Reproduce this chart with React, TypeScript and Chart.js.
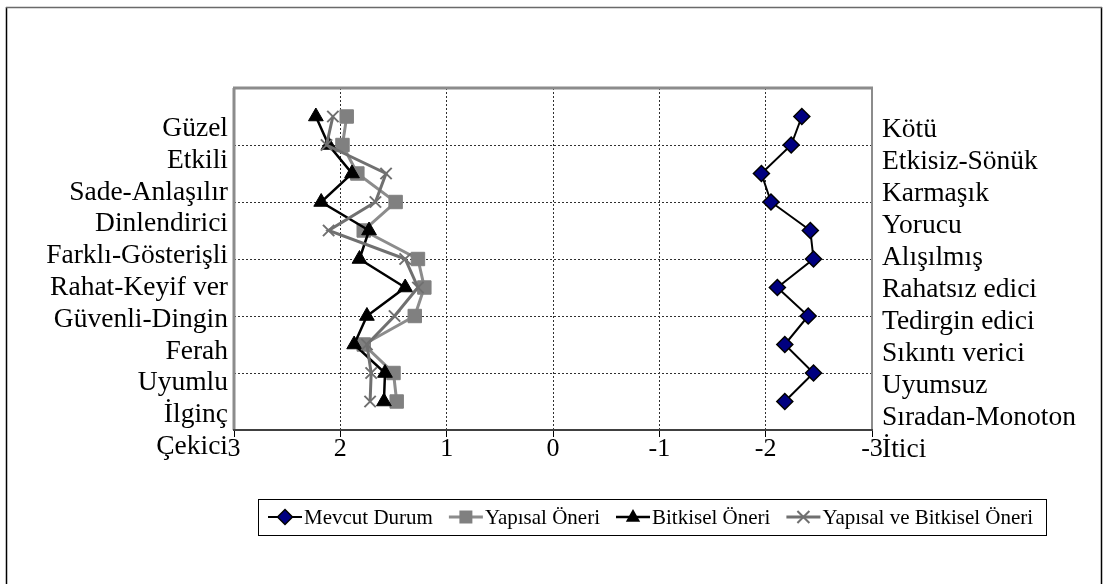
import React, { useEffect, useRef } from "react";
import { Chart, registerables } from "chart.js";

Chart.register(...registerables);

// ---- data ----
const yPositions = [5.5, 5, 4.5, 4, 3.5, 3, 2.5, 2, 1.5, 1, 0.5];
const leftLabels = [
  "Güzel",
  "Etkili",
  "Sade-Anlaşılır",
  "Dinlendirici",
  "Farklı-Gösterişli",
  "Rahat-Keyif ver",
  "Güvenli-Dingin",
  "Ferah",
  "Uyumlu",
  "İlginç",
  "Çekici",
];
const rightLabels = [
  "Kötü",
  "Etkisiz-Sönük",
  "Karmaşık",
  "Yorucu",
  "Alışılmış",
  "Rahatsız edici",
  "Tedirgin edici",
  "Sıkıntı verici",
  "Uyumsuz",
  "Sıradan-Monoton",
  "İtici",
];
const seriesNames = ["Mevcut Durum", "Yapısal Öneri", "Bitkisel Öneri", "Yapısal ve Bitkisel Öneri"];
const mevcutDurum = [-2.34, -2.24, -1.96, -2.05, -2.42, -2.45, -2.11, -2.4, -2.18, -2.45, -2.18];
const yapisalOneri = [1.94, 1.98, 1.84, 1.48, 1.78, 1.27, 1.21, 1.3, 1.78, 1.5, 1.47];
const bitkiselOneri = [2.23, 2.11, 1.89, 2.18, 1.73, 1.82, 1.39, 1.75, 1.87, 1.58, 1.59];
const yapisalVeBitkisel = [2.07, 2.13, 1.57, 1.67, 2.11, 1.39, 1.27, 1.49, 1.75, 1.71, 1.72];
const xTicks = [3, 2, 1, 0, -1, -2, -3];

const SERIF = "'Liberation Serif', 'Times New Roman', serif";

const styles = [
  { line: "#000000", lw: 2, marker: "diamond", fill: "#000080", stroke: "#000000" },
  { line: "#8c8c8c", lw: 3, marker: "square", fill: "#808080", stroke: "#808080" },
  { line: "#000000", lw: 2.5, marker: "triangle", fill: "#000000", stroke: "#000000" },
  { line: "#707070", lw: 3, marker: "cross", fill: "#707070", stroke: "#707070" },
];

function drawMarker(ctx: CanvasRenderingContext2D, kind: string, x: number, y: number, fill: string, stroke: string) {
  ctx.save();
  ctx.fillStyle = fill;
  ctx.strokeStyle = stroke;
  ctx.beginPath();
  if (kind === "diamond") {
    const r = 7.5;
    ctx.moveTo(x, y - r);
    ctx.lineTo(x + r, y);
    ctx.lineTo(x, y + r);
    ctx.lineTo(x - r, y);
    ctx.closePath();
    ctx.fill();
    ctx.lineWidth = 1.5;
    ctx.stroke();
  } else if (kind === "square") {
    const s = 6.5;
    ctx.rect(x - s, y - s, 2 * s, 2 * s);
    ctx.fill();
  } else if (kind === "triangle") {
    const r = 8;
    ctx.moveTo(x, y - r);
    ctx.lineTo(x + r * 0.9, y + r * 0.6);
    ctx.lineTo(x - r * 0.9, y + r * 0.6);
    ctx.closePath();
    ctx.fill();
  } else {
    const r = 6;
    ctx.lineWidth = 2;
    ctx.moveTo(x - r, y - r);
    ctx.lineTo(x + r, y + r);
    ctx.moveTo(x + r, y - r);
    ctx.lineTo(x - r, y + r);
    ctx.stroke();
  }
  ctx.restore();
}

const decorPlugin = {
  id: "decor",
  beforeDraw(chart: any) {
    const { ctx, width, height } = chart;
    ctx.save();
    ctx.fillStyle = "#ffffff";
    ctx.fillRect(0, 0, width, height);
    // outer frame
    ctx.lineWidth = 1.5;
    ctx.strokeStyle = "#000000";
    ctx.beginPath();
    ctx.moveTo(6.5, 7);
    ctx.lineTo(6.5, height + 5);
    ctx.moveTo(1101.5, 7);
    ctx.lineTo(1101.5, height + 5);
    ctx.stroke();
    ctx.strokeStyle = "#6a6a6a";
    ctx.beginPath();
    ctx.moveTo(6, 7.5);
    ctx.lineTo(1102, 7.5);
    ctx.stroke();
    ctx.restore();
  },
  beforeDatasetsDraw(chart: any) {
    const { ctx, chartArea } = chart;
    const { left, right, top, bottom } = chartArea;
    ctx.save();
    ctx.strokeStyle = "#8c8c8c";
    ctx.lineWidth = 3;
    ctx.beginPath();
    ctx.moveTo(left - 1, top);
    ctx.lineTo(right + 1, top);
    ctx.moveTo(left, top);
    ctx.lineTo(left, bottom);
    ctx.stroke();
    ctx.lineWidth = 2;
    ctx.beginPath();
    ctx.moveTo(right, top);
    ctx.lineTo(right, bottom);
    ctx.stroke();
    ctx.strokeStyle = "#404040";
    ctx.lineWidth = 2;
    ctx.beginPath();
    ctx.moveTo(left - 1, bottom);
    ctx.lineTo(right + 1, bottom);
    ctx.stroke();
    ctx.restore();
  },
  afterDraw(chart: any) {
    const { ctx, chartArea } = chart;
    const { left, right, top } = chartArea;
    ctx.save();
    ctx.fillStyle = "#000000";
    ctx.font = `27.5px ${SERIF}`;
    ctx.textBaseline = "alphabetic";
    ctx.textAlign = "right";
    leftLabels.forEach((t, i) => {
      ctx.fillText(t, left - 6, top + 48 + i * 31.8);
    });
    ctx.textAlign = "left";
    rightLabels.forEach((t, i) => {
      ctx.fillText(t, right + 10, top + 49 + i * 32.0);
    });

    // legend
    const boxL = 258;
    const boxT = 499;
    const boxR = 1046;
    const boxB = 535;
    ctx.strokeStyle = "#000000";
    ctx.lineWidth = 1;
    ctx.strokeRect(boxL + 0.5, boxT + 0.5, boxR - boxL, boxB - boxT);
    ctx.font = `21px ${SERIF}`;
    ctx.textBaseline = "middle";
    ctx.textAlign = "left";
    const yc = (boxT + boxB) / 2;
    let x = boxL + 10;
    seriesNames.forEach((name, i) => {
      const st = styles[i];
      ctx.strokeStyle = st.line;
      ctx.lineWidth = st.lw;
      ctx.beginPath();
      ctx.moveTo(x, yc);
      ctx.lineTo(x + 34, yc);
      ctx.stroke();
      drawMarker(ctx, st.marker, x + 17, yc, st.fill, st.stroke);
      ctx.fillStyle = "#000000";
      ctx.fillText(name, x + 36, yc + 1);
      x += 36 + ctx.measureText(name).width + 16;
    });
    ctx.restore();
  },
};

export default function App() {
  const canvasRef = useRef<HTMLCanvasElement | null>(null);

  useEffect(() => {
    if (!canvasRef.current) return;
    const toPts = (arr: number[]) => arr.map((v, i) => ({ x: v, y: yPositions[i] }));
    const gridColor = (edge: number) => (c: any) =>
      c.tick && Math.abs(c.tick.value) === edge ? "rgba(0,0,0,0)" : "#303030";
    const chart = new Chart(canvasRef.current, {
      type: "scatter",
      data: {
        datasets: [
          {
            label: seriesNames[0],
            data: toPts(mevcutDurum),
            showLine: true,
            borderColor: styles[0].line,
            borderWidth: 2,
            pointStyle: "rectRot",
            pointRadius: 8,
            pointBackgroundColor: "#000080",
            pointBorderColor: "#000000",
            pointBorderWidth: 1.5,
            order: 4,
          },
          {
            label: seriesNames[1],
            data: toPts(yapisalOneri),
            showLine: true,
            borderColor: styles[1].line,
            borderWidth: 3,
            pointStyle: "rect",
            pointRadius: 9.5,
            pointBackgroundColor: "#808080",
            pointBorderColor: "#808080",
            pointBorderWidth: 1,
            order: 3,
          },
          {
            label: seriesNames[2],
            data: toPts(bitkiselOneri),
            showLine: true,
            borderColor: styles[2].line,
            borderWidth: 2.5,
            pointStyle: "triangle",
            pointRadius: 8.5,
            pointBackgroundColor: "#000000",
            pointBorderColor: "#000000",
            pointBorderWidth: 1,
            order: 2,
          },
          {
            label: seriesNames[3],
            data: toPts(yapisalVeBitkisel),
            showLine: true,
            borderColor: styles[3].line,
            borderWidth: 3,
            pointStyle: "crossRot",
            pointRadius: 8,
            pointBorderColor: "#707070",
            pointBackgroundColor: "#707070",
            pointBorderWidth: 2,
            order: 1,
          },
        ],
      },
      options: {
        animation: false,
        responsive: false,
        devicePixelRatio: 1,
        events: [],
        layout: { padding: { left: 234, right: 231, top: 88, bottom: 94 } },
        plugins: { legend: { display: false }, tooltip: { enabled: false } },
        scales: {
          x: {
            type: "linear",
            min: -3,
            max: 3,
            reverse: true,
            afterBuildTicks: (s: any) => {
              s.ticks = xTicks.map((v) => ({ value: v }));
            },
            afterFit: (s: any) => {
              s.height = 60;
            },
            ticks: {
              autoSkip: false,
              maxRotation: 0,
              padding: -3,
              color: "#000000",
              font: { family: SERIF, size: 26 },
              callback: (v: any) => String(v),
            },
            grid: {
              color: gridColor(3),
              lineWidth: 1,
              tickLength: 7,
              tickColor: "#000000",
              tickWidth: 1,
            },
            border: { display: false, dash: [2, 2] },
          },
          y: {
            type: "linear",
            min: 0,
            max: 6,
            afterFit: (s: any) => {
              s.width = 0;
            },
            ticks: { display: false, stepSize: 1 },
            grid: { color: gridColor(6), drawTicks: false, lineWidth: 1 },
            border: { display: false, dash: [2, 2] },
          },
        },
      },
      plugins: [decorPlugin],
    } as any);
    return () => chart.destroy();
  }, []);

  return (
    <div style={{ position: "absolute", left: 0, top: 0, width: 1103, height: 584, background: "#fff" }}>
      <canvas ref={canvasRef} width={1103} height={584} style={{ width: 1103, height: 584, display: "block" }} />
    </div>
  );
}
